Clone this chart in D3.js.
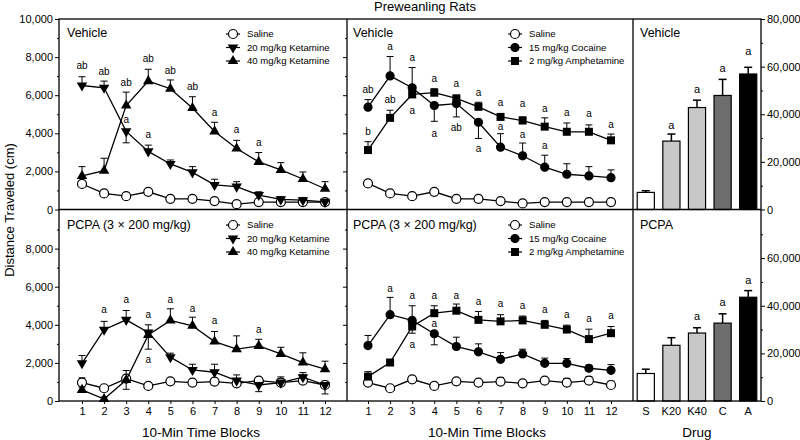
<!DOCTYPE html>
<html>
<head>
<meta charset="utf-8">
<script src="https://cdn.jsdelivr.net/npm/d3@7"></script>
<style>
body { margin: 0; background: #fff; }
svg text { font-family: "Liberation Sans", Arial, sans-serif; fill: #000; }
</style>
</head>
<body>
<script>
// ---- data ----
const blocks = [1, 2, 3, 4, 5, 6, 7, 8, 9, 10, 11, 12];
const drugs = ["S", "K20", "K40", "C", "A"];

// Vehicle, ketamine panel (negative error = bar drawn downward)
const vehKetSaline = [1340, 845, 700, 930, 560, 560, 440, 280, 390, 390, 390, 390];
const vehKetSalineErr = [120, 80, 60, 80, 60, 60, 60, 50, 60, 60, 60, 60];
const vehKet20 = [6510, 6390, 4100, 3050, 2390, 1950, 1290, 1200, 760, 530, 490, 400];
const vehKet20Err = [460, 350, -600, 330, 210, 300, 300, 260, 170, 140, 140, 100];
const vehKet40 = [1760, 2040, 5460, 6740, 6340, 5330, 4100, 3200, 2500, 2080, 1600, 1090];
const vehKet40Err = [490, 650, 700, 620, 460, 590, 480, 430, 490, 380, 370, 370];
const vehKetLabels = [[1, 7535, "ab"], [2, 7270, "ab"], [3, 6655, "ab"], [3, 4750, "a"], [4, 7920, "ab"],
  [4, 3930, "a"], [5, 7300, "ab"], [6, 6440, "ab"], [7, 5100, "a"], [8, 4190, "a"], [9, 3520, "a"]];

// Vehicle, cocaine / amphetamine panel
const vehPsySaline = [1370, 845, 700, 930, 560, 560, 440, 320, 390, 390, 390, 390];
const vehPsySalineErr = [120, 80, 60, 80, 60, 60, 60, 50, 60, 60, 60, 60];
const vehCoc = [5370, 7010, 6390, 5460, 5560, 4580, 3270, 2820, 2220, 1850, 1760, 1670];
const vehCocErr = [400, 1020, 1060, -830, -700, -850, 710, 670, 630, 550, 490, 410];
const vehAmph = [3120, 4810, 6040, 6130, 5830, 5390, 4860, 4670, 4350, 4080, 4080, 3630];
const vehAmphErr = [440, 400, 200, 210, 170, 240, 180, 190, 460, 460, 360, 330];
const vehPsyLabels = [[1, 6300, "ab"], [1, 4100, "b"], [2, 8540, "a"], [2, 5770, "ab"], [3, 7980, "a"],
  [3, 5210, "a"], [4, 6870, "a"], [4, 4010, "a"], [5, 6620, "a"], [5, 4280, "ab"], [6, 6160, "a"],
  [6, 3220, "a"], [7, 5600, "a"], [7, 4370, "a"], [8, 5560, "a"], [8, 3960, "a"], [9, 5300, "a"],
  [9, 3350, "a"], [10, 5070, "a"], [11, 5020, "a"], [12, 4450, "a"]];

// PCPA, ketamine panel
const pcpaKetSaline = [965, 670, 1175, 790, 1035, 965, 1020, 930, 1070, 965, 1070, 840];
const pcpaKetSalineErr = [250, 150, -560, 100, 100, 100, 150, 150, 150, 300, 300, -470];
const pcpaKet20 = [1980, 3740, 4260, 3600, 2300, 1630, 1510, 1070, 840, 965, 1250, 840];
const pcpaKet20Err = [410, 440, 490, 400, 210, 300, 420, 300, -350, 200, 240, 200];
const pcpaKet40 = [580, 105, 1100, 3470, 4230, 3950, 3120, 2720, 2890, 2470, 2020, 1670];
const pcpaKet40Err = [150, 100, 500, -750, 610, 450, 530, 700, 350, 350, 510, 420];
const pcpaKetLabels = [[2, 4820, "a"], [3, 5320, "a"], [4, 4530, "a"], [4, 2160, "a"], [5, 5320, "a"],
  [6, 4880, "a"], [7, 4210, "a"], [9, 3740, "a"]];

// PCPA, cocaine / amphetamine panel
const pcpaPsySaline = [965, 670, 1140, 790, 1035, 965, 1020, 930, 1070, 965, 1070, 840];
const pcpaPsySalineErr = [150, 100, 150, 100, 100, 100, 200, 100, 150, 220, 200, 200];
const pcpaCoc = [2910, 4530, 4230, 3530, 2860, 2580, 2190, 2470, 1980, 1980, 1720, 1610];
const pcpaCocErr = [530, 910, 770, -580, 490, 420, 350, 250, 270, 250, 160, 300];
const pcpaAmph = [1280, 2020, 3910, 4610, 4740, 4260, 4180, 4230, 4000, 3750, 3250, 3560];
const pcpaAmphErr = [260, 150, -350, 390, 350, 440, 350, 230, 230, 230, 520, 350];
const pcpaPsyLabels = [[2, 5930, "a"], [3, 5540, "a"], [3, 2950, "a"], [4, 5530, "a"], [4, 4050, "a"],
  [5, 5560, "a"], [6, 5230, "a"], [7, 5110, "a"], [8, 5000, "a"], [9, 4790, "a"], [10, 4530, "a"],
  [11, 4320, "a"], [12, 4470, "a"]];

// session totals
const vehTotals = [7180, 28730, 42820, 47890, 56900];
const vehTotalsErr = [710, 2960, 3100, 6760, 2820];
const vehTotalLabels = [["K20", 35630], ["K40", 50420], ["C", 59150], ["A", 66620]];
const pcpaTotals = [11550, 23390, 28540, 32710, 43570];
const pcpaTotalsErr = [1810, 3200, 2230, 3900, 2790];
const pcpaTotalLabels = [["K40", 35500], ["C", 41490], ["A", 50810]];

const leftTicksTop = [0, 2000, 4000, 6000, 8000, 10000];
const leftTicksBot = [0, 2000, 4000, 6000, 8000];
const leftMinor = [1000, 3000, 5000, 7000, 9000];
const rightTicksTop = [0, 20000, 40000, 60000, 80000];
const rightTicksBot = [0, 20000, 40000, 60000];
const rightMinor = [10000, 30000, 50000, 70000];

// ---- layout ----
const W = 800, H = 440;
const colL = [59, 347], colM = [347, 633], colR = [633, 761];
const rowT = [19, 209.5], rowB = [209.5, 401];

const svg = d3.select("body").append("svg")
    .attr("width", W)
    .attr("height", H);

const yTop = d3.scaleLinear().domain([0, 10000]).range([rowT[1], rowT[0]]);
const yBot = d3.scaleLinear().domain([0, 10000]).range([rowB[1], rowB[0] + 1]);
const yTopBar = d3.scaleLinear().domain([0, 80000]).range([rowT[1], rowT[0]]);
const yBotBar = d3.scaleLinear().domain([0, 80000]).range([rowB[1], rowB[0] + 1]);
const xLeft = d3.scaleLinear().domain([1, 12]).range([82, 325]);
const xMid = d3.scaleLinear().domain([1, 12]).range([368, 611]);
const xBar = d3.scaleBand().domain(drugs).range(colR).paddingInner(0.33).paddingOuter(0.165);

const fmt = d3.format(",");

function drawMarker(sel, kind) {
    if (kind === "open" || kind === "dot") {
        sel.append("circle")
            .attr("r", kind === "open" ? 4.5 : 4)
            .attr("fill", kind === "open" ? "#fff" : "#000")
            .attr("stroke", "#000")
            .attr("stroke-width", 1.2);
    } else if (kind === "square") {
        sel.append("rect")
            .attr("x", -4).attr("y", -4)
            .attr("width", 8).attr("height", 8)
            .attr("fill", "#000");
    } else {
        sel.append("path")
            .attr("d", d3.symbol().type(d3.symbolTriangle).size(48)())
            .attr("transform", kind === "down" ? "rotate(180)" : null)
            .attr("fill", "#000");
    }
}

function linePanel(x, y, series, labels, legendX, legendY) {
    const g = svg.append("g");
    series.forEach(s => {
        const eb = g.append("g").selectAll("g")
            .data(blocks.map((b, i) => ({ b, v: s.values[i], e: s.errs[i] })))
            .enter().append("g");
        eb.append("line")
            .attr("x1", d => x(d.b)).attr("x2", d => x(d.b))
            .attr("y1", d => y(d.v)).attr("y2", d => y(d.v + d.e))
            .attr("stroke", "#000").attr("stroke-width", 1);
        eb.append("line")
            .attr("x1", d => x(d.b) - 3.5).attr("x2", d => x(d.b) + 3.5)
            .attr("y1", d => y(d.v + d.e)).attr("y2", d => y(d.v + d.e))
            .attr("stroke", "#000").attr("stroke-width", 1);
    });
    series.forEach(s => {
        g.append("path")
            .datum(s.values)
            .attr("fill", "none")
            .attr("stroke", "#000")
            .attr("stroke-width", 1.3)
            .attr("d", d3.line().x((d, i) => x(blocks[i])).y(d => y(d)));
        g.append("g").selectAll("g")
            .data(s.values)
            .enter().append("g")
            .attr("transform", (d, i) => `translate(${x(blocks[i])},${y(d)})`)
            .call(drawMarker, s.kind);
    });
    g.selectAll(".sig")
        .data(labels)
        .enter().append("text")
        .attr("class", "sig")
        .attr("x", d => x(d[0]))
        .attr("y", d => y(d[1]))
        .attr("dy", "0.35em")
        .attr("text-anchor", "middle")
        .style("font-size", "10px")
        .text(d => d[2]);

    const lg = g.selectAll(".leg")
        .data(series)
        .enter().append("g")
        .attr("transform", (d, i) => `translate(${legendX},${legendY + i * 13.5})`);
    lg.append("line")
        .attr("x1", -7).attr("x2", 7)
        .attr("stroke", "#000").attr("stroke-width", 1.2);
    lg.each(function (d) { drawMarker(d3.select(this), d.kind); });
    lg.append("text")
        .attr("x", 14)
        .attr("dy", "0.35em")
        .style("font-size", "9.6px")
        .text(d => d.name);
}

function barPanel(y, values, errs, labels) {
    const g = svg.append("g");
    const fills = ["#ffffff", "#c8c8c8", "#c8c8c8", "#6e6e6e", "#000000"];
    g.selectAll("rect")
        .data(values)
        .enter().append("rect")
        .attr("x", (d, i) => xBar(drugs[i]))
        .attr("y", d => y(d))
        .attr("width", xBar.bandwidth())
        .attr("height", d => y(0) - y(d))
        .attr("fill", (d, i) => fills[i])
        .attr("stroke", "#000")
        .attr("stroke-width", 1.2);
    const eb = g.selectAll(".eb")
        .data(values.map((v, i) => ({ c: xBar(drugs[i]) + xBar.bandwidth() / 2, v, e: errs[i] })))
        .enter().append("g");
    eb.append("line")
        .attr("x1", d => d.c).attr("x2", d => d.c)
        .attr("y1", d => y(d.v)).attr("y2", d => y(d.v + d.e))
        .attr("stroke", "#000").attr("stroke-width", 1.5);
    eb.append("line")
        .attr("x1", d => d.c - 4).attr("x2", d => d.c + 4)
        .attr("y1", d => y(d.v + d.e)).attr("y2", d => y(d.v + d.e))
        .attr("stroke", "#000").attr("stroke-width", 1.5);
    g.selectAll(".sig")
        .data(labels)
        .enter().append("text")
        .attr("x", d => xBar(d[0]) + xBar.bandwidth() / 2)
        .attr("y", d => y(d[1]))
        .attr("dy", "0.35em")
        .attr("text-anchor", "middle")
        .style("font-size", "11px")
        .text("a");
}

// ---- panels ----
const ketNames = ["Saline", "20 mg/kg Ketamine", "40 mg/kg Ketamine"];
const psyNames = ["Saline", "15 mg/kg Cocaine", "2 mg/kg Amphetamine"];

linePanel(xLeft, yTop, [
    { name: ketNames[0], kind: "open", values: vehKetSaline, errs: vehKetSalineErr },
    { name: ketNames[1], kind: "down", values: vehKet20, errs: vehKet20Err },
    { name: ketNames[2], kind: "up", values: vehKet40, errs: vehKet40Err }
], vehKetLabels, 233, 34);

linePanel(xMid, yTop, [
    { name: psyNames[0], kind: "open", values: vehPsySaline, errs: vehPsySalineErr },
    { name: psyNames[1], kind: "dot", values: vehCoc, errs: vehCocErr },
    { name: psyNames[2], kind: "square", values: vehAmph, errs: vehAmphErr }
], vehPsyLabels, 515, 34);

linePanel(xLeft, yBot, [
    { name: ketNames[0], kind: "open", values: pcpaKetSaline, errs: pcpaKetSalineErr },
    { name: ketNames[1], kind: "down", values: pcpaKet20, errs: pcpaKet20Err },
    { name: ketNames[2], kind: "up", values: pcpaKet40, errs: pcpaKet40Err }
], pcpaKetLabels, 233, 225);

linePanel(xMid, yBot, [
    { name: psyNames[0], kind: "open", values: pcpaPsySaline, errs: pcpaPsySalineErr },
    { name: psyNames[1], kind: "dot", values: pcpaCoc, errs: pcpaCocErr },
    { name: psyNames[2], kind: "square", values: pcpaAmph, errs: pcpaAmphErr }
], pcpaPsyLabels, 515, 225);

barPanel(yTopBar, vehTotals, vehTotalsErr, vehTotalLabels);
barPanel(yBotBar, pcpaTotals, pcpaTotalsErr, pcpaTotalLabels);

// ---- frames ----
const frame = svg.append("g")
    .attr("fill", "none")
    .attr("stroke", "#000")
    .attr("stroke-width", 1.3);
frame.append("rect")
    .attr("x", colL[0]).attr("y", rowT[0])
    .attr("width", colR[1] - colL[0]).attr("height", rowB[1] - rowT[0]);
frame.append("line").attr("x1", colM[0]).attr("x2", colM[0]).attr("y1", rowT[0]).attr("y2", rowB[1]);
frame.append("line").attr("x1", colR[0]).attr("x2", colR[0]).attr("y1", rowT[0]).attr("y2", rowB[1]);
frame.append("line").attr("x1", colL[0]).attr("x2", colR[1]).attr("y1", rowT[1]).attr("y2", rowT[1]);

// ---- axes ----
function addAxis(axis, tx, ty) {
    const a = svg.append("g")
        .attr("transform", `translate(${tx},${ty})`)
        .call(axis);
    a.select(".domain").remove();
    a.selectAll("text").style("font-size", "11px");
    return a;
}

addAxis(d3.axisLeft(yTop).tickValues(leftTicksTop).tickFormat(fmt).tickSize(4).tickPadding(2), colL[0], 0);
addAxis(d3.axisLeft(yTop).tickValues(leftMinor).tickFormat("").tickSize(2), colL[0], 0);
addAxis(d3.axisLeft(yBot).tickValues(leftTicksBot).tickFormat(fmt).tickSize(4).tickPadding(2), colL[0], 0);
addAxis(d3.axisLeft(yBot).tickValues(leftMinor).tickFormat("").tickSize(2), colL[0], 0);

addAxis(d3.axisLeft(yTop).tickValues(leftTicksTop.slice(1, 5)).tickFormat("").tickSize(4), colM[0], 0);
addAxis(d3.axisLeft(yTop).tickValues(leftMinor).tickFormat("").tickSize(2), colM[0], 0);
addAxis(d3.axisLeft(yBot).tickValues(leftTicksBot.slice(1)).tickFormat("").tickSize(4), colM[0], 0);
addAxis(d3.axisLeft(yBot).tickValues(leftMinor).tickFormat("").tickSize(2), colM[0], 0);

addAxis(d3.axisRight(yTopBar).tickValues(rightTicksTop).tickFormat(fmt).tickSize(4).tickPadding(2), colR[1], 0);
addAxis(d3.axisRight(yTopBar).tickValues(rightMinor).tickFormat("").tickSize(2), colR[1], 0);
addAxis(d3.axisRight(yBotBar).tickValues(rightTicksBot).tickFormat(fmt).tickSize(4).tickPadding(2), colR[1], 0);
addAxis(d3.axisRight(yBotBar).tickValues(rightMinor).tickFormat("").tickSize(2), colR[1], 0);

addAxis(d3.axisBottom(xLeft).tickValues(blocks).tickFormat(d3.format("d")).tickSize(3).tickPadding(3), 0, rowB[1]);
addAxis(d3.axisBottom(xMid).tickValues(blocks).tickFormat(d3.format("d")).tickSize(3).tickPadding(3), 0, rowB[1]);
addAxis(d3.axisBottom(xBar).tickSize(0).tickPadding(6), 0, rowB[1]);

// ---- titles ----
svg.append("text")
    .attr("x", 425).attr("y", 11)
    .attr("text-anchor", "middle")
    .style("font-size", "13px")
    .text("Preweanling Rats");

svg.append("text")
    .attr("transform", "rotate(-90)")
    .attr("x", -210).attr("y", 14)
    .attr("text-anchor", "middle")
    .style("font-size", "13px")
    .text("Distance Traveled (cm)");

[[201, "10-Min Time Blocks"], [487, "10-Min Time Blocks"], [697, "Drug"]].forEach(d => {
    svg.append("text")
        .attr("x", d[0]).attr("y", 437)
        .attr("text-anchor", "middle")
        .style("font-size", "13.5px")
        .text(d[1]);
});

[[67, 37, "Vehicle"], [353, 37, "Vehicle"], [640, 37, "Vehicle"],
 [67, 229, "PCPA (3 \u00d7 200 mg/kg)"], [353, 229, "PCPA (3 \u00d7 200 mg/kg)"], [640, 229, "PCPA"]].forEach(d => {
    svg.append("text")
        .attr("x", d[0]).attr("y", d[1])
        .style("font-size", "12.5px")
        .text(d[2]);
});
</script>
</body>
</html>
